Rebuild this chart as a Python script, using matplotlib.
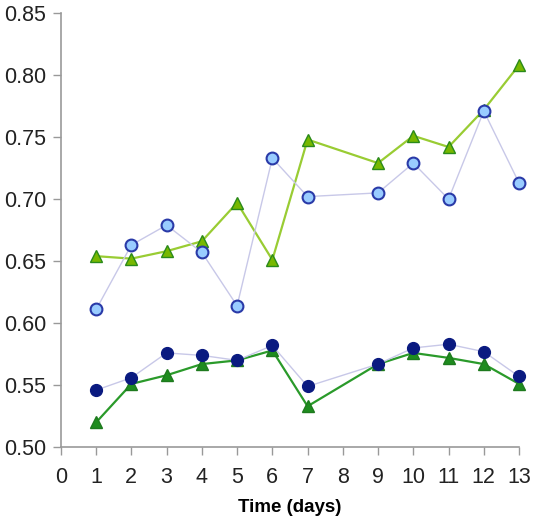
import numpy as np
import matplotlib
matplotlib.use("Agg")
import matplotlib.pyplot as plt

days = [1, 2, 3, 4, 5, 6, 7, 9, 10, 11, 12, 13]
light_tri = [0.654, 0.652, 0.658, 0.666, 0.697, 0.651, 0.748, 0.729, 0.751, 0.742, 0.772, 0.808]
light_circ = [0.611, 0.663, 0.679, 0.657, 0.614, 0.733, 0.702, 0.705, 0.729, 0.700, 0.771, 0.713]
dark_circ = [0.546, 0.556, 0.576, 0.574, 0.570, 0.582, 0.549, 0.567, 0.580, 0.583, 0.577, 0.557]
dark_tri = [0.520, 0.551, 0.558, 0.567, 0.570, 0.578, 0.533, 0.567, 0.576, 0.572, 0.567, 0.551]

xticks = list(range(0, 14))
yticks = [0.50, 0.55, 0.60, 0.65, 0.70, 0.75, 0.80, 0.85]

plt.rcParams['font.family'] = ['Liberation Sans', 'DejaVu Sans']

fig = plt.figure(figsize=(5.34, 5.20), dpi=100)
ax = fig.add_axes([0.114, 0.140, 0.858, 0.835])

# lower pair
ax.plot(days, dark_tri, color='#2a9a2a', lw=1.6, marker='^', ms=9,
        mfc='#1e8c1e', mec='#1e7a1e', zorder=3, clip_on=False)
ax.plot(days, dark_circ, color='#c8c8e8', lw=1.0, marker='o', ms=8.5,
        mfc='#0a1a80', mec='#0a1a80', zorder=4, clip_on=False)

# upper pair
ax.plot(days, light_tri, color='#99cc33', lw=1.6, marker='^', ms=9,
        mfc='#77b800', mec='#2a8a1a', mew=1.0, zorder=3, clip_on=False)
ax.plot(days, light_circ, color='#c8c8e8', lw=1.0, marker='o', ms=8.5,
        mfc='#99ccff', mec='#2a3aa8', mew=1.5, zorder=4, clip_on=False)

ax.set_xlim(0, 13)
ax.set_ylim(0.5, 0.85)
ax.set_xticks(xticks)
ax.set_yticks(yticks)
ax.set_yticklabels([f"{v:.2f}" for v in yticks])
ax.set_xlabel('Time (days)', fontsize=13.5, fontweight='bold', labelpad=8)

for s in ['top', 'right']:
    ax.spines[s].set_visible(False)
for s in ['left', 'bottom']:
    ax.spines[s].set_color('#999999')
    ax.spines[s].set_linewidth(1.2)
ax.tick_params(direction='out', length=5.5, width=1, color='#999999',
               labelsize=15.5, labelcolor='#222222', pad=5)
ax.tick_params(axis='x', pad=9)
ax.patch.set_alpha(0)

fig.savefig('out.png', dpi=100)
